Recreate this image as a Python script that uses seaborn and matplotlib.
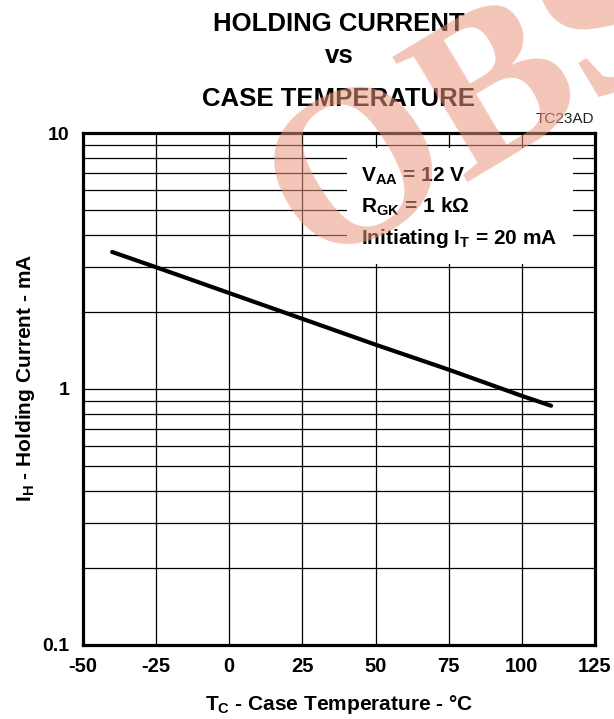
import matplotlib
matplotlib.use("Agg")
import matplotlib.pyplot as plt
from matplotlib.patches import Rectangle
from matplotlib.ticker import FixedLocator, LogLocator, NullFormatter
import seaborn as sns

# Data
temperature = [-40, -25, 0, 25, 50, 75, 100, 110]
holding_current = [3.43, 2.99, 2.37, 1.88, 1.49, 1.19, 0.94, 0.86]

x_ticks = [-50, -25, 0, 25, 50, 75, 100, 125]
y_ticks = [0.1, 1, 10]
y_tick_labels = ["0.1", "1", "10"]

sns.set_theme(style="white")
plt.rcParams["font.family"] = ["Liberation Sans", "DejaVu Sans"]
plt.rcParams["mathtext.fontset"] = "custom"
plt.rcParams["mathtext.bf"] = "Liberation Sans:bold"
plt.rcParams["mathtext.rm"] = "Liberation Sans:bold"
for key in ["text.color", "axes.labelcolor", "xtick.color", "ytick.color"]:
    plt.rcParams[key] = "black"

fig = plt.figure(figsize=(6.14, 7.19), dpi=100)
ax = fig.add_axes([0.135, 0.103, 0.834, 0.712])

sns.lineplot(x=temperature, y=holding_current, color="black", linewidth=3.0, ax=ax, zorder=3)

ax.set_yscale("log")
ax.set_xlim(-50, 125)
ax.set_ylim(0.1, 10)
ax.xaxis.set_major_locator(FixedLocator(x_ticks))
ax.set_xticklabels([str(t) for t in x_ticks])
ax.yaxis.set_major_locator(FixedLocator(y_ticks))
ax.set_yticklabels(y_tick_labels)
ax.yaxis.set_minor_locator(LogLocator(base=10, subs=range(2, 10)))
ax.yaxis.set_minor_formatter(NullFormatter())

ax.grid(which="both", color="black", linewidth=0.9)
ax.tick_params(which="both", length=0)
ax.tick_params(axis="x", pad=9, labelsize=14.5)
ax.tick_params(axis="y", pad=9.5, labelsize=14)
for lbl in ax.get_xticklabels() + ax.get_yticklabels():
    lbl.set_fontweight("bold")
for sp in ax.spines.values():
    sp.set_linewidth(2.3)
    sp.set_color("black")

# white box behind the conditions text
ax.add_patch(Rectangle((0.516, 0.744), 0.441, 0.227, transform=ax.transAxes,
                       facecolor="white", edgecolor="none", zorder=2))
cond = dict(transform=ax.transAxes, fontsize=15, fontweight="bold", ha="left", va="baseline", zorder=4)
ax.text(0.543, 0.906, r"V$_{\mathbf{AA}}$ = 12 V", **cond)
ax.text(0.543, 0.844, r"R$_{\mathbf{GK}}$ = 1 k$\Omega$", **cond)
ax.text(0.543, 0.783, r"Initiating I$_{\mathbf{T}}$ = 20 mA", **cond)

ax.set_xlabel(r"T$_{\mathbf{C}}$ - Case Temperature - °C", fontsize=15, fontweight="bold", labelpad=12)
ax.set_ylabel(r"I$_{\mathbf{H}}$ - Holding Current - mA", fontsize=15, fontweight="bold")
ax.yaxis.set_label_coords(-0.09, 0.521)

# title
title = dict(ha="center", va="baseline", fontsize=18.5, fontweight="bold")
fig.text(0.552, 0.957, "HOLDING CURRENT", **title)
fig.text(0.552, 0.913, "vs", **title)
fig.text(0.552, 0.852, "CASE TEMPERATURE", **title)
fig.text(0.967, 0.835, "TC23AD", ha="right", va="center", fontsize=11, color="#222222")

# obsolete watermark
fig.text(0.778, 0.852, "OBS", ha="center", va="center", rotation=31, rotation_mode="anchor",
         fontsize=160, fontweight="bold", family="Liberation Serif", color="#E9967D", alpha=0.55,
         zorder=10)

fig.savefig("out.png", dpi=100)
